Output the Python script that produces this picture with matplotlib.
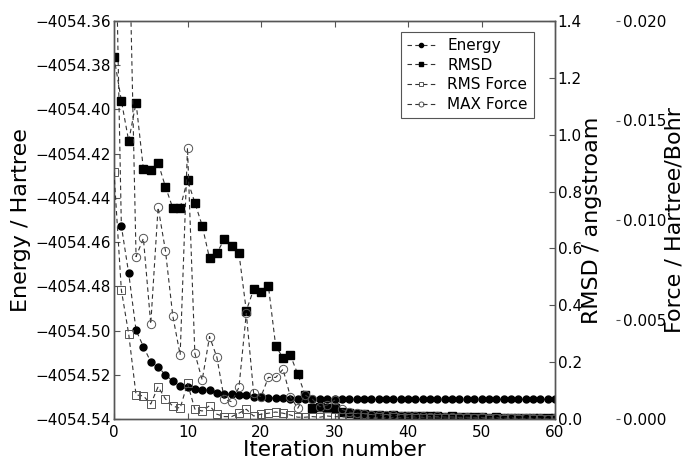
import matplotlib
matplotlib.use("Agg")
import matplotlib.pyplot as plt

# ---------------- data ----------------
iterations = list(range(61))

energy = [-4054.28, -4054.4527, -4054.4741, -4054.4998, -4054.5073, -4054.5141,
          -4054.5164, -4054.5201, -4054.5228, -4054.5251, -4054.5256, -4054.5264,
          -4054.5269, -4054.5269, -4054.5281, -4054.5287, -4054.5287, -4054.5291,
          -4054.5292, -4054.5300, -4054.5300, -4054.5303, -4054.5306, -4054.5307,
          -4054.5309, -4054.5310, -4054.5310, -4054.5310, -4054.5309, -4054.5309,
          -4054.5310, -4054.5311, -4054.5311, -4054.5311, -4054.5311, -4054.5311,
          -4054.5311, -4054.5311, -4054.5311, -4054.5311, -4054.5311, -4054.5311,
          -4054.5311, -4054.5311, -4054.5311, -4054.5311, -4054.5311, -4054.5311,
          -4054.5311, -4054.5311, -4054.5311, -4054.5311, -4054.5311, -4054.5311,
          -4054.5311, -4054.5311, -4054.5311, -4054.5311, -4054.5311, -4054.5311,
          -4054.5311]

rmsd = [1.274, 1.12, 0.978, 1.113, 0.879, 0.876, 0.901, 0.817, 0.742, 0.742,
        0.841, 0.761, 0.680, 0.565, 0.583, 0.633, 0.609, 0.583, 0.381, 0.456,
        0.448, 0.469, 0.257, 0.215, 0.224, 0.158, 0.085, 0.038, 0.043, 0.038,
        0.038, 0.026, 0.020, 0.016, 0.018, 0.014, 0.015, 0.012, 0.013, 0.011,
        0.012, 0.010, 0.011, 0.009, 0.010, 0.008, 0.009, 0.007, 0.008, 0.006,
        0.007, 0.005, 0.006, 0.005, 0.005, 0.004, 0.004, 0.004, 0.003, 0.003,
        0.003]

rms_force = [0.0124, 0.00648, 0.00427, 0.00121, 0.00116, 0.00075, 0.00162, 0.00101,
             0.00065, 0.00054, 0.00179, 0.00050, 0.00040, 0.00067, 0.00024, 0.00012,
             0.00012, 0.00029, 0.00049, 0.00015, 0.00024, 0.00029, 0.00035, 0.00029,
             0.00020, 0.00009, 0.00009, 0.00012, 0.00009, 0.00015, 0.00012, 0.00010,
             0.00012, 0.00008, 0.00010, 0.00007, 0.00009, 0.00006, 0.00008, 0.00006,
             0.00007, 0.00005, 0.00007, 0.00005, 0.00006, 0.00004, 0.00005, 0.00003,
             0.00005, 0.00003, 0.00004, 0.00002, 0.00004, 0.00002, 0.00003, 0.00001,
             0.00003, 0.00001, 0.00002, 0.00001, 0.00002]

max_force = [0.045, 0.035, 0.0254, 0.00816, 0.00908, 0.00477, 0.01064, 0.00846,
             0.00518, 0.00322, 0.01363, 0.00330, 0.00196, 0.00414, 0.00310, 0.00099,
             0.00087, 0.00159, 0.00531, 0.00129, 0.00112, 0.00209, 0.00209, 0.00250,
             0.00112, 0.00054, 0.00120, 0.00099, 0.00062, 0.00070, 0.00095, 0.00049,
             0.00034, 0.00030, 0.00025, 0.00022, 0.00020, 0.00018, 0.00019, 0.00016,
             0.00017, 0.00014, 0.00015, 0.00012, 0.00013, 0.00010, 0.00011, 0.00008,
             0.00009, 0.00006, 0.00008, 0.00005, 0.00007, 0.00004, 0.00006, 0.00003,
             0.00005, 0.00003, 0.00004, 0.00002, 0.00003]

x_ticks = [0, 10, 20, 30, 40, 50, 60]
energy_ticks = [-4054.54, -4054.52, -4054.50, -4054.48, -4054.46, -4054.44,
                -4054.42, -4054.40, -4054.38, -4054.36]
rmsd_ticks = [0.0, 0.2, 0.4, 0.6, 0.8, 1.0, 1.2, 1.4]
force_ticks = [0.000, 0.005, 0.010, 0.015, 0.020]

labels = ["Energy", "RMSD", "RMS Force", "MAX Force"]

# ---------------- figure ----------------
plt.rcParams['font.family'] = ['DejaVu Sans']
fig = plt.figure(figsize=(6.88, 4.59), dpi=100)
ax = fig.add_axes([114 / 688, 1 - 419 / 459, 441 / 688, 398 / 459])
ax2 = ax.twinx()
ax3 = ax.twinx()
ax3.spines['right'].set_position(('axes', 1.147))
ax3.spines['right'].set_color('none')
for s in ['top', 'left', 'bottom']:
    ax3.spines[s].set_color('none')

line_kw = dict(color='#333333', lw=0.8, ls=(0, (4, 3)))

l1, = ax.plot(iterations, energy, marker='o', ms=5, mfc='black', mec='black',
              label=labels[0], **line_kw)
l2, = ax2.plot(iterations, rmsd, marker='s', ms=6, mfc='black', mec='black',
               label=labels[1], **line_kw)
l3, = ax3.plot(iterations, rms_force, marker='s', ms=6, mfc='none', mec='#555555',
               mew=0.7, label=labels[2], **line_kw)
l4, = ax3.plot(iterations, max_force, marker='o', ms=6, mfc='none', mec='#555555',
               mew=0.7, label=labels[3], **line_kw)

ax.set_xlim(0, 60)
ax.set_ylim(-4054.54, -4054.36)
ax2.set_ylim(0, 1.4)
ax3.set_ylim(0, 0.020)

ax.set_xticks(x_ticks)
ax.set_xticklabels([str(v) for v in x_ticks])
ax.set_yticks(energy_ticks)
ax.set_yticklabels([("%.2f" % v).replace('-', '\u2212') for v in energy_ticks])
ax2.set_yticks(rmsd_ticks)
ax2.set_yticklabels(["%.1f" % v for v in rmsd_ticks])
ax3.set_yticks(force_ticks)
ax3.set_yticklabels(["%.3f" % v for v in force_ticks])

for a in (ax, ax2):
    for s in a.spines.values():
        s.set_color('#555555')
        s.set_linewidth(1.0)

ax.tick_params(axis='x', direction='in', top=True, length=4, width=0.8,
               labelsize=11, pad=4, color='#555555')
ax.tick_params(axis='y', direction='in', length=4, width=0.8, labelsize=11,
               pad=2, color='#555555')
ax2.tick_params(axis='y', direction='in', length=4, width=0.8, labelsize=11,
                pad=2, color='#555555')
ax3.tick_params(axis='y', direction='in', length=3, width=0.8, labelsize=11,
                pad=2.5, color='#555555')

ax.set_xlabel("Iteration number", fontsize=15.5, labelpad=0)
ax.set_ylabel("Energy / Hartree", fontsize=16, labelpad=3)
ax2.set_ylabel("RMSD / angstroam", fontsize=16, labelpad=0)
ax3.set_ylabel("Force / Hartree/Bohr", fontsize=16, labelpad=-1.5)

leg = ax3.legend([l1, l2, l3, l4], labels, loc='upper right',
                 bbox_to_anchor=(0.952, 0.972), borderaxespad=0, fontsize=11,
                 fancybox=False, framealpha=1, edgecolor='#555555',
                 markerscale=0.6, handlelength=1.8, labelspacing=0.3,
                 handletextpad=0.8, borderpad=0.4)
leg.get_frame().set_linewidth(0.8)

fig.savefig('out.png', dpi=100)
